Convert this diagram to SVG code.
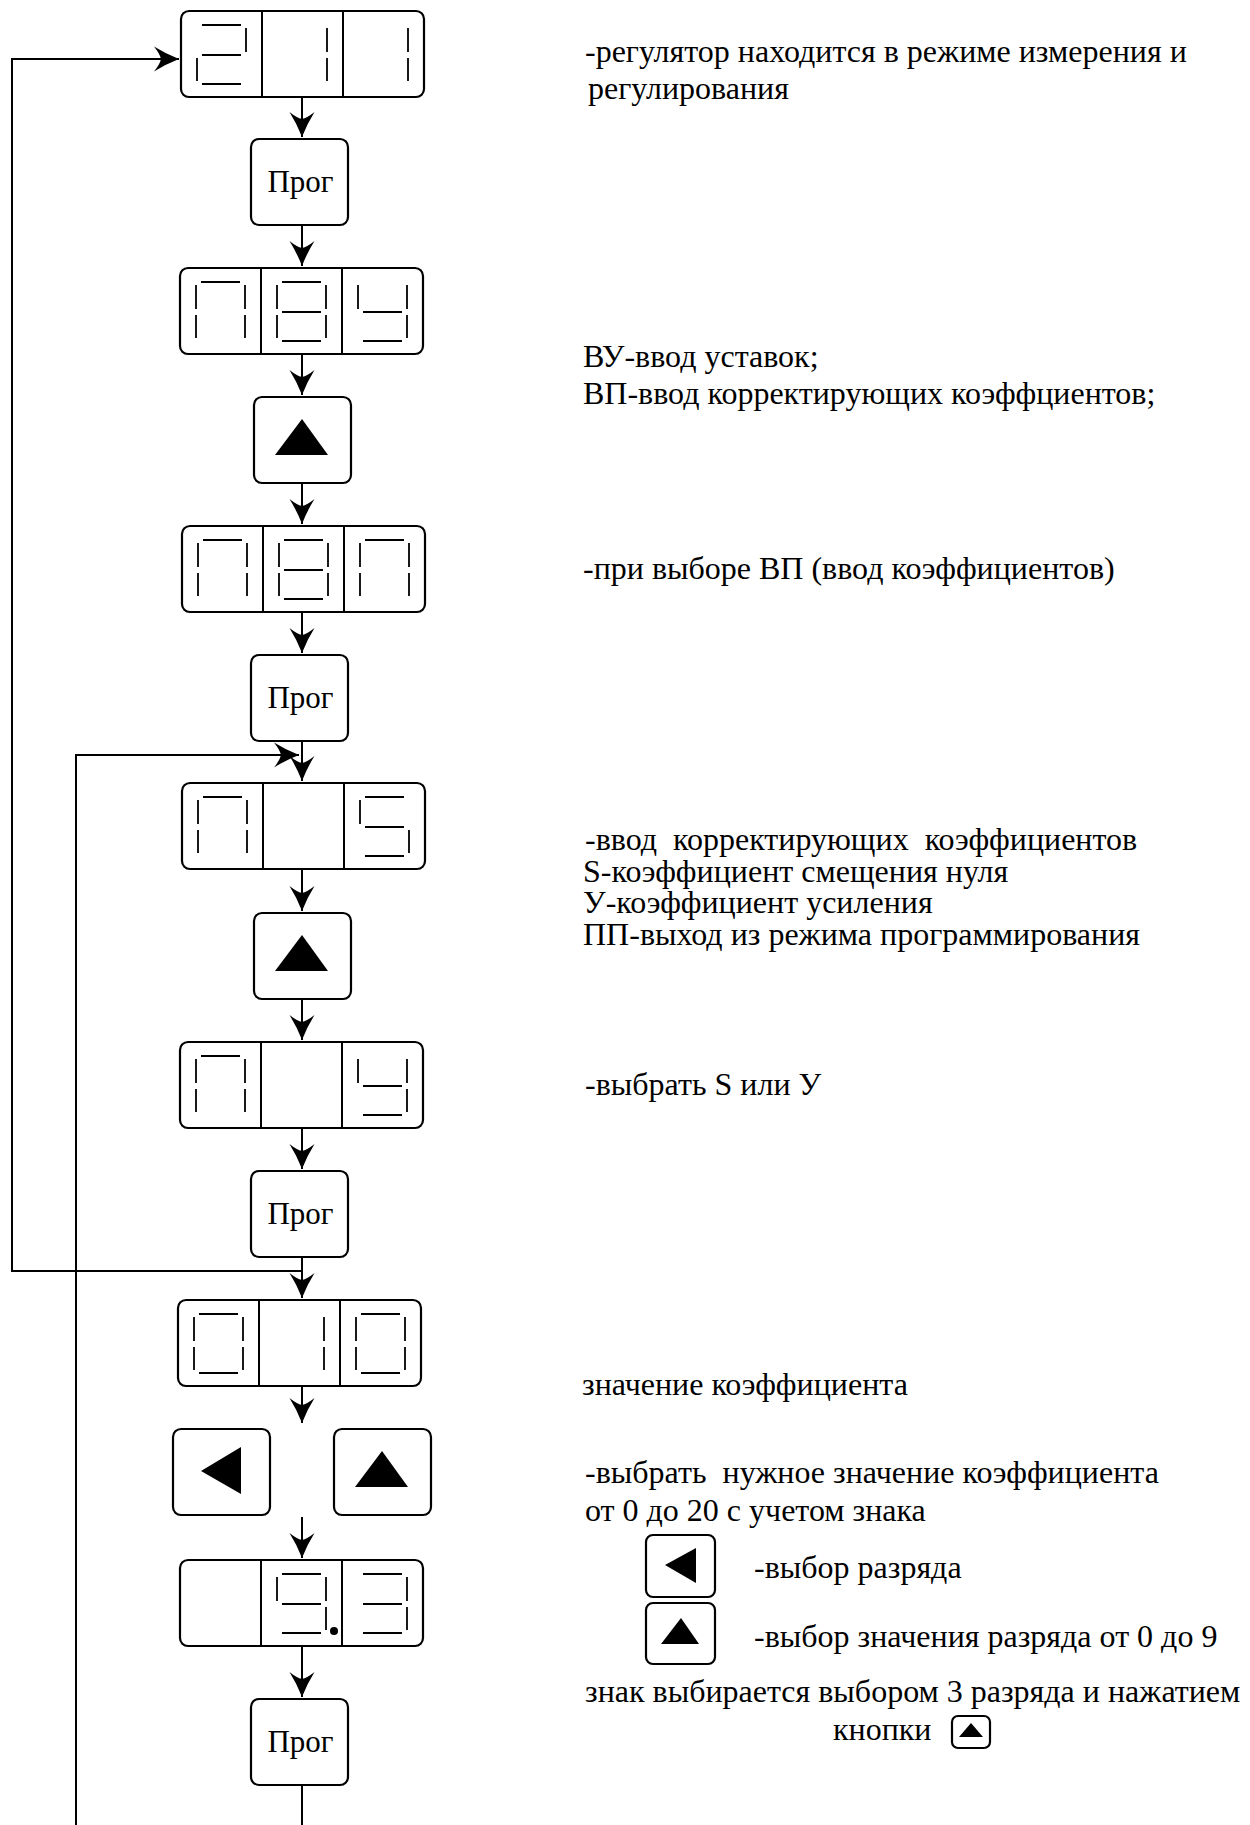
<svg xmlns="http://www.w3.org/2000/svg" xmlns:xlink="http://www.w3.org/1999/xlink" width="1250" height="1825" viewBox="0 0 1250 1825">
  <style>
    .box { fill: #fff; stroke: #000; stroke-width: 2.2; }
    .div { stroke: #000; stroke-width: 2; }
    .seg { fill: none; stroke: #000; stroke-width: 1.8; stroke-linecap: butt; }
    .wire { fill: none; stroke: #000; stroke-width: 2; }
    .tri { fill: #000; stroke: none; }
    .note { font-family: "Liberation Serif", "Times New Roman", serif; font-size: 32px; fill: #000; }
    .key { font-family: "Liberation Serif", "Times New Roman", serif; font-size: 31px; fill: #000; text-anchor: middle; }
  </style>
  <defs>
    <marker id="arrow" viewBox="-28 -14 30 28" refX="0" refY="0" markerWidth="30" markerHeight="28" markerUnits="userSpaceOnUse" orient="auto">
      <path d="M0,0 Q-13,-5 -25,-12.5 Q-19,-5 -18,0 Q-19,5 -25,12.5 Q-13,5 0,0 Z" fill="#000"/>
    </marker>
    <!-- seven-segment strokes, relative to a cell's top-left corner -->
    <path id="sa" class="seg" d="M21,14 H60"/>
    <path id="sb" class="seg" d="M65,17 V41"/>
    <path id="sc" class="seg" d="M65,47 V70"/>
    <path id="sd" class="seg" d="M21,73 H60"/>
    <path id="se" class="seg" d="M16,47 V70"/>
    <path id="sf" class="seg" d="M16,17 V41"/>
    <path id="sg" class="seg" d="M21,44 H60"/>
    <!-- three-cell indicator frame -->
    <g id="frame">
      <rect class="box" x="0" y="0" width="243" height="86" rx="8"/>
      <line class="div" x1="81" y1="0" x2="81" y2="86"/>
      <line class="div" x1="162" y1="0" x2="162" y2="86"/>
    </g>
    <rect id="keybox" class="box" x="0" y="0" width="97" height="86" rx="8"/>
    <g id="key-up">
      <use xlink:href="#keybox"/>
      <polygon class="tri" points="48,22 74,58 21,58"/>
    </g>
    <g id="key-left">
      <use xlink:href="#keybox"/>
      <polygon class="tri" points="28,42 68,18 68,65"/>
    </g>
    <g id="key-prog">
      <use xlink:href="#keybox"/>
      <text class="key" x="49.5" y="53">Прог</text>
    </g>
  </defs>

  <!-- connectors -->
  <g id="connectors">
    <path class="wire" d="M302,97 V137" marker-end="url(#arrow)"/>
    <path class="wire" d="M302,225 V266" marker-end="url(#arrow)"/>
    <path class="wire" d="M302,354 V395" marker-end="url(#arrow)"/>
    <path class="wire" d="M302,483 V524" marker-end="url(#arrow)"/>
    <path class="wire" d="M302,612 V653" marker-end="url(#arrow)"/>
    <path class="wire" d="M302,741 V781" marker-end="url(#arrow)"/>
    <path class="wire" d="M302,870 V911" marker-end="url(#arrow)"/>
    <path class="wire" d="M302,999 V1040" marker-end="url(#arrow)"/>
    <path class="wire" d="M302,1128 V1169" marker-end="url(#arrow)"/>
    <path class="wire" d="M302,1257 V1298" marker-end="url(#arrow)"/>
    <path class="wire" d="M302,1385 V1423" marker-end="url(#arrow)"/>
    <path class="wire" d="M302,1517 V1558" marker-end="url(#arrow)"/>
    <path class="wire" d="M302,1646 V1697" marker-end="url(#arrow)"/>
    <path class="wire" d="M302,1785 V1825"/>
    <!-- return to measuring mode -->
    <path class="wire" d="M302,1271 H12 V59 H179" marker-end="url(#arrow)"/>
    <!-- return to coefficient menu -->
    <path class="wire" d="M76,1825 V755 H299" marker-end="url(#arrow)"/>
  </g>

  <!-- indicator: 2 1 1 -->
  <g id="ind-211" transform="translate(181,11)">
    <use xlink:href="#frame"/>
    <use xlink:href="#sa"/><use xlink:href="#sb"/><use xlink:href="#sg"/><use xlink:href="#se"/><use xlink:href="#sd"/>
    <use xlink:href="#sb" x="81"/><use xlink:href="#sc" x="81"/>
    <use xlink:href="#sb" x="162"/><use xlink:href="#sc" x="162"/>
  </g>
  <g id="key-prog-1" transform="translate(251,139)"><use xlink:href="#key-prog"/></g>

  <!-- indicator: П В У -->
  <g id="ind-pvu" transform="translate(180,268)">
    <use xlink:href="#frame"/>
    <use xlink:href="#sa"/><use xlink:href="#sb"/><use xlink:href="#sc"/><use xlink:href="#se"/><use xlink:href="#sf"/>
    <use xlink:href="#sa" x="81"/><use xlink:href="#sb" x="81"/><use xlink:href="#sc" x="81"/><use xlink:href="#sd" x="81"/><use xlink:href="#se" x="81"/><use xlink:href="#sf" x="81"/><use xlink:href="#sg" x="81"/>
    <use xlink:href="#sf" x="162"/><use xlink:href="#sb" x="162"/><use xlink:href="#sg" x="162"/><use xlink:href="#sc" x="162"/><use xlink:href="#sd" x="162"/>
  </g>
  <g id="key-up-1" transform="translate(254,397)"><use xlink:href="#key-up"/></g>

  <!-- indicator: П В П -->
  <g id="ind-pvp" transform="translate(182,526)">
    <use xlink:href="#frame"/>
    <use xlink:href="#sa"/><use xlink:href="#sb"/><use xlink:href="#sc"/><use xlink:href="#se"/><use xlink:href="#sf"/>
    <use xlink:href="#sa" x="81"/><use xlink:href="#sb" x="81"/><use xlink:href="#sc" x="81"/><use xlink:href="#sd" x="81"/><use xlink:href="#se" x="81"/><use xlink:href="#sf" x="81"/><use xlink:href="#sg" x="81"/>
    <use xlink:href="#sa" x="162"/><use xlink:href="#sb" x="162"/><use xlink:href="#sc" x="162"/><use xlink:href="#se" x="162"/><use xlink:href="#sf" x="162"/>
  </g>
  <g id="key-prog-2" transform="translate(251,655)"><use xlink:href="#key-prog"/></g>

  <!-- indicator: П _ S -->
  <g id="ind-p-s" transform="translate(182,783)">
    <use xlink:href="#frame"/>
    <use xlink:href="#sa"/><use xlink:href="#sb"/><use xlink:href="#sc"/><use xlink:href="#se"/><use xlink:href="#sf"/>
    <use xlink:href="#sa" x="162"/><use xlink:href="#sf" x="162"/><use xlink:href="#sg" x="162"/><use xlink:href="#sc" x="162"/><use xlink:href="#sd" x="162"/>
  </g>
  <g id="key-up-2" transform="translate(254,913)"><use xlink:href="#key-up"/></g>

  <!-- indicator: П _ У -->
  <g id="ind-p-u" transform="translate(180,1042)">
    <use xlink:href="#frame"/>
    <use xlink:href="#sa"/><use xlink:href="#sb"/><use xlink:href="#sc"/><use xlink:href="#se"/><use xlink:href="#sf"/>
    <use xlink:href="#sf" x="162"/><use xlink:href="#sb" x="162"/><use xlink:href="#sg" x="162"/><use xlink:href="#sc" x="162"/><use xlink:href="#sd" x="162"/>
  </g>
  <g id="key-prog-3" transform="translate(251,1171)"><use xlink:href="#key-prog"/></g>

  <!-- indicator: 0 1 0 -->
  <g id="ind-010" transform="translate(178,1300)">
    <use xlink:href="#frame"/>
    <use xlink:href="#sa"/><use xlink:href="#sb"/><use xlink:href="#sc"/><use xlink:href="#sd"/><use xlink:href="#se"/><use xlink:href="#sf"/>
    <use xlink:href="#sb" x="81"/><use xlink:href="#sc" x="81"/>
    <use xlink:href="#sa" x="162"/><use xlink:href="#sb" x="162"/><use xlink:href="#sc" x="162"/><use xlink:href="#sd" x="162"/><use xlink:href="#se" x="162"/><use xlink:href="#sf" x="162"/>
  </g>
  <g id="key-left-1" transform="translate(173,1429)"><use xlink:href="#key-left"/></g>
  <g id="key-up-3" transform="translate(334,1429)"><use xlink:href="#key-up"/></g>

  <!-- indicator: _ 9. 3 -->
  <g id="ind-93" transform="translate(180,1560)">
    <use xlink:href="#frame"/>
    <use xlink:href="#sa" x="81"/><use xlink:href="#sb" x="81"/><use xlink:href="#sc" x="81"/><use xlink:href="#sd" x="81"/><use xlink:href="#sf" x="81"/><use xlink:href="#sg" x="81"/>
    <circle cx="154" cy="71" r="4" fill="#000"/>
    <use xlink:href="#sa" x="162"/><use xlink:href="#sb" x="162"/><use xlink:href="#sc" x="162"/><use xlink:href="#sd" x="162"/><use xlink:href="#sg" x="162"/>
  </g>
  <g id="key-prog-4" transform="translate(251,1699)"><use xlink:href="#key-prog"/></g>

  <!-- explanations -->
  <g id="notes">
    <text class="note" x="585" y="62">-регулятор находится в режиме измерения и</text>
    <text class="note" x="588" y="99">регулирования</text>
    <text class="note" x="583" y="367">ВУ-ввод уставок;</text>
    <text class="note" x="583" y="404">ВП-ввод корректирующих коэффциентов;</text>
    <text class="note" x="583" y="579">-при выборе ВП (ввод коэффициентов)</text>
    <text class="note" x="585" y="850" xml:space="preserve">-ввод  корректирующих  коэффициентов</text>
    <text class="note" x="583" y="882">S-коэффициент смещения нуля</text>
    <text class="note" x="583" y="913">У-коэффициент усиления</text>
    <text class="note" x="583" y="945">ПП-выход из режима программирования</text>
    <text class="note" x="585" y="1095">-выбрать S или У</text>
    <text class="note" x="582" y="1395">значение коэффициента</text>
    <text class="note" x="585" y="1483" xml:space="preserve">-выбрать  нужное значение коэффициента</text>
    <text class="note" x="585" y="1521">от 0 до 20 с учетом знака</text>
    <text class="note" x="754" y="1578">-выбор разряда</text>
    <text class="note" x="754" y="1647">-выбор значения разряда от 0 до 9</text>
    <text class="note" x="585" y="1702">знак выбирается выбором 3 разряда и нажатием</text>
    <text class="note" x="833" y="1740">кнопки</text>
  </g>

  <!-- legend keys -->
  <g id="legend-left">
    <rect class="box" x="646" y="1535" width="69" height="62" rx="7"/>
    <polygon class="tri" points="665,1565 696,1548 696,1583"/>
  </g>
  <g id="legend-up">
    <rect class="box" x="646" y="1603" width="69" height="61" rx="7"/>
    <polygon class="tri" points="681,1618 699,1644 661,1644"/>
  </g>
  <g id="legend-up-small">
    <rect class="box" x="952" y="1716" width="38" height="32" rx="6"/>
    <polygon class="tri" points="971,1723 983,1737 959,1737"/>
  </g>
</svg>
